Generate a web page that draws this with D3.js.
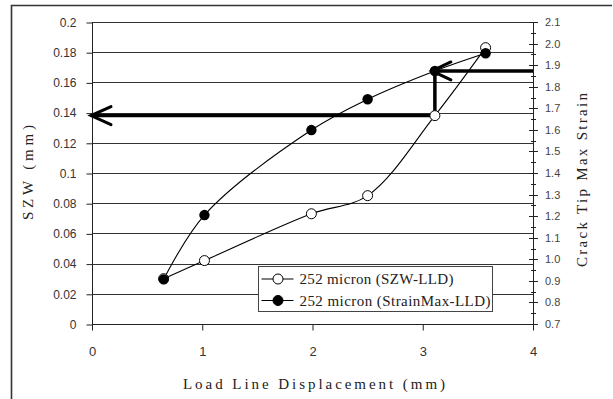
<html>
<head>
  <meta charset="utf-8">
  <title>SZW and Crack Tip Max Strain vs LLD</title>
  <script src="https://cdnjs.cloudflare.com/ajax/libs/d3/7.8.5/d3.min.js"></script>
  <style>
    body { margin: 0; background: #fff; }
    .tick-l { font-family: "Liberation Sans", Arial, sans-serif; font-size: 12px; fill: #333; }
    .tick-r { font-family: "Liberation Sans", Arial, sans-serif; font-size: 11px; fill: #444; }
    .tick-x { font-family: "Liberation Sans", Arial, sans-serif; font-size: 13px; fill: #333; }
    .ttl { font-family: "Liberation Serif", "Times New Roman", serif; font-size: 15px; fill: #222; }
  </style>
</head>
<body>
  <div id="viz"></div>
  <script type="text/javascript">
    // data
    var lld    = [0.65, 1.02, 1.99, 2.50, 3.11, 3.57];   // load line displacement (mm)
    var szw    = [0.030, 0.042, 0.073, 0.085, 0.138, 0.183]; // left axis (mm)
    var strain = [0.907, 1.205, 1.599, 1.742, 1.873, 1.955]; // right axis
    var xTicks = [0, 1, 2, 3, 4];
    var yTicks = [0, 0.02, 0.04, 0.06, 0.08, 0.1, 0.12, 0.14, 0.16, 0.18, 0.2];
    var y2Ticks = [0.7, 0.8, 0.9, 1.0, 1.1, 1.2, 1.3, 1.4, 1.5, 1.6, 1.7, 1.8, 1.9, 2.0, 2.1];
    var legendLabels = ["252 micron (SZW-LLD)", "252 micron (StrainMax-LLD)"];
    var arrowIdx = 4; // point the arrows are drawn through

    var width = 613, height = 399;
    var pLeft = 92, pRight = 533, pTop = 22, pBottom = 324;

    var svg = d3.select("#viz").append("svg")
        .attr("width", width).attr("height", height);

    // outer chart frame (only top and left show)
    svg.append("path")
        .attr("d", "M11.5,400 L11.5,5.5 L612,5.5")
        .attr("fill", "none").attr("stroke", "#333").attr("stroke-width", 1.6);

    var x = d3.scaleLinear().domain([0, 4]).range([pLeft, pRight]);
    var y = d3.scaleLinear().domain([0, 0.2]).range([pBottom, pTop]);
    var y2 = d3.scaleLinear().domain([0.7, 2.1]).range([pBottom, pTop]);

    // gridlines
    svg.append("g").selectAll("line").data(yTicks).enter().append("line")
        .attr("x1", pLeft).attr("x2", pRight)
        .attr("y1", function (d) { return Math.round(y(d)) + 0.5; })
        .attr("y2", function (d) { return Math.round(y(d)) + 0.5; })
        .attr("stroke", "#333").attr("stroke-width", 1);

    // left axis
    var yAxis = svg.append("g").attr("transform", "translate(" + (pLeft + 0.5) + ",0.5)")
        .call(d3.axisLeft(y).tickValues(yTicks).tickSize(6).tickPadding(10)
          .tickFormat(function (d) { return d === 0 ? "0" : d3.format("~g")(d); }));
    yAxis.select(".domain").remove();
    yAxis.selectAll("line").attr("stroke", "#222");
    yAxis.selectAll("text").attr("class", "tick-l").attr("font-family", null).attr("font-size", null)
        .attr("fill", null);
    svg.append("line").attr("x1", pLeft + 0.5).attr("x2", pLeft + 0.5)
        .attr("y1", pTop).attr("y2", pBottom + 6).attr("stroke", "#222");

    // right axis with minor ticks
    var minor = d3.range(0.75, 2.1, 0.1);
    svg.append("g").selectAll("line").data(minor).enter().append("line")
        .attr("x1", pRight - 2).attr("x2", pRight + 3)
        .attr("y1", function (d) { return Math.round(y2(d)) + 0.5; })
        .attr("y2", function (d) { return Math.round(y2(d)) + 0.5; })
        .attr("stroke", "#222");
    svg.append("g").selectAll("line").data(y2Ticks).enter().append("line")
        .attr("x1", pRight - 4).attr("x2", pRight + 5)
        .attr("y1", function (d) { return Math.round(y2(d)) + 0.5; })
        .attr("y2", function (d) { return Math.round(y2(d)) + 0.5; })
        .attr("stroke", "#222");
    svg.append("g").selectAll("text").data(y2Ticks).enter().append("text")
        .attr("class", "tick-r")
        .attr("x", pRight + 12).attr("y", function (d) { return y2(d) + 4; })
        .text(function (d) { return d.toFixed(1); });
    svg.append("line").attr("x1", pRight + 0.5).attr("x2", pRight + 0.5)
        .attr("y1", pTop).attr("y2", pBottom + 6).attr("stroke", "#222");

    // x axis
    var xAxis = svg.append("g").attr("transform", "translate(0," + (pBottom + 0.5) + ")")
        .call(d3.axisBottom(x).tickValues(xTicks).tickSize(6).tickPadding(16).tickFormat(d3.format("d")));
    xAxis.select(".domain").attr("stroke", "#222").attr("d", "M" + pLeft + ",0H" + pRight);
    xAxis.selectAll("line").attr("stroke", "#222");
    xAxis.selectAll("text").attr("class", "tick-x").attr("font-family", null).attr("font-size", null)
        .attr("fill", null);

    // titles
    svg.append("text").attr("class", "ttl")
        .attr("x", 183).attr("y", 389)
        .attr("textLength", 262).attr("lengthAdjust", "spacing")
        .text("Load Line Displacement (mm)");
    svg.append("text").attr("class", "ttl")
        .attr("transform", "translate(33,220) rotate(-90)")
        .attr("textLength", 95).attr("lengthAdjust", "spacing")
        .text("SZW (mm)");
    svg.append("text").attr("class", "ttl")
        .attr("transform", "translate(587,267) rotate(-90)")
        .attr("textLength", 174).attr("lengthAdjust", "spacing")
        .text("Crack Tip Max Strain");

    // series lines (smoothed)
    var rows = lld.map(function (d, i) { return { x: d, s: szw[i], e: strain[i] }; });
    var curve = d3.curveCatmullRom.alpha(0.5);
    svg.append("path").datum(rows)
        .attr("d", d3.line().curve(curve).x(function (d) { return x(d.x); }).y(function (d) { return y(d.s); }))
        .attr("fill", "none").attr("stroke", "#000").attr("stroke-width", 1.1);
    svg.append("path").datum(rows)
        .attr("d", d3.line().curve(curve).x(function (d) { return x(d.x); }).y(function (d) { return y2(d.e); }))
        .attr("fill", "none").attr("stroke", "#000").attr("stroke-width", 1.1);

    // annotation arrows
    var ax = x(lld[arrowIdx]), ay = y(szw[arrowIdx]), ay2 = y2(strain[arrowIdx]);
    var arrows = svg.append("g").attr("fill", "none").attr("stroke", "#000")
        .attr("stroke-width", 3.5).attr("stroke-linecap", "round");
    arrows.append("path").attr("d", "M" + pLeft + "," + ay + "H" + ax + "V" + ay2)
        .attr("stroke-linejoin", "miter").attr("stroke-linecap", "butt");
    arrows.append("path").attr("d", "M" + (pLeft + 19) + "," + (ay - 9) + "L" + (pLeft - 1) + "," + ay + "L" + (pLeft + 19) + "," + (ay + 9))
        .attr("stroke-width", 3);
    arrows.append("path").attr("d", "M" + x(4) + "," + ay2 + "H" + (ax - 2))
        .attr("stroke-linecap", "butt");
    arrows.append("path").attr("d", "M" + (ax + 16) + "," + (ay2 - 9) + "L" + (ax - 3) + "," + ay2 + "L" + (ax + 16) + "," + (ay2 + 9))
        .attr("stroke-width", 3);

    // markers
    svg.append("g").selectAll("circle").data(rows).enter().append("circle")
        .attr("cx", function (d) { return x(d.x); }).attr("cy", function (d) { return y(d.s); })
        .attr("r", 5).attr("fill", "#fff").attr("stroke", "#000").attr("stroke-width", 1);
    svg.append("g").selectAll("circle").data(rows).enter().append("circle")
        .attr("cx", function (d) { return x(d.x); }).attr("cy", function (d) { return y2(d.e); })
        .attr("r", 5.2).attr("fill", "#000");

    // legend
    var lg = svg.append("g").attr("transform", "translate(258.5,266.5)");
    lg.append("rect").attr("width", 234).attr("height", 45)
        .attr("fill", "#fff").attr("stroke", "#444").attr("stroke-width", 1);
    var lgLen = [154, 191];
    legendLabels.forEach(function (t, i) {
      var cy = 12.5 + i * 21.5;
      lg.append("line").attr("x1", 3).attr("x2", 35).attr("y1", cy).attr("y2", cy)
          .attr("stroke", "#000");
      lg.append("circle").attr("cx", 19.5).attr("cy", cy).attr("r", 5)
          .attr("fill", i === 0 ? "#fff" : "#000").attr("stroke", "#000");
      lg.append("text").attr("class", "ttl").attr("x", 41).attr("y", cy + 5)
          .attr("textLength", lgLen[i]).attr("lengthAdjust", "spacing")
          .text(t);
    });
  </script>
</body>
</html>
